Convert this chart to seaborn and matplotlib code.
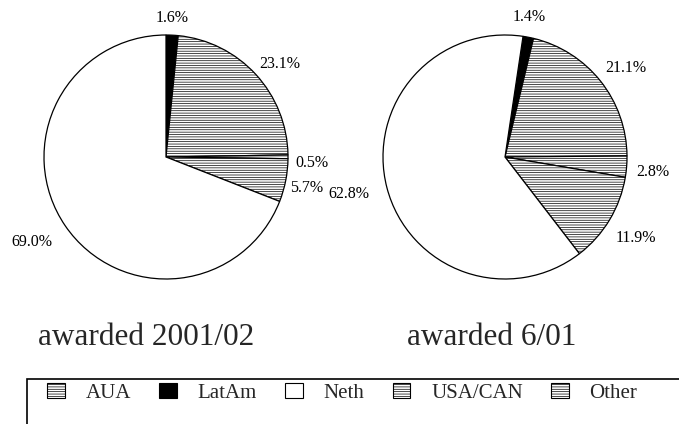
import matplotlib
matplotlib.use("Agg")
import matplotlib.pyplot as plt
import seaborn as sns
from matplotlib.patches import Patch, Rectangle

# data (clockwise from the top of each pie)
slice_names = ["LatAm", "USA/CAN", "Other", "AUA", "Neth"]
values_2001 = [1.6, 23.1, 0.5, 5.7, 69.0]
values_601 = [1.4, 21.1, 2.8, 11.9, 62.8]
titles = ["awarded 2001/02", "awarded 6/01"]
legend_names = ["AUA", "LatAm", "Neth", "USA/CAN", "Other"]

# styles
HATCH = "-------"
face = {"LatAm": "black", "Neth": "white", "USA/CAN": "white", "Other": "white", "AUA": "white"}
hatch = {"LatAm": None, "Neth": None, "USA/CAN": HATCH, "Other": HATCH, "AUA": HATCH}

# label positions (pie radius units) as Excel placed them
lab_2001 = [(0.05, 1.14), (0.93, 0.76), (1.20, -0.05), (1.15, -0.25), (-1.10, -0.70)]
lab_601 = [(0.20, 1.15), (0.99, 0.73), (1.21, -0.12), (1.07, -0.66), (-1.28, -0.30)]

sns.set_theme(style="white")
plt.rcParams["font.family"] = ["Liberation Serif", "DejaVu Serif"]
plt.rcParams["hatch.linewidth"] = 0.5

W, H = 679, 424
fig = plt.figure(figsize=(W / 100, H / 100), dpi=100)


def pie_axes(cx, cy, r, lim=1.3):
    size = 2 * lim * r
    ax = fig.add_axes([(cx - size / 2) / W, (H - cy - size / 2) / H, size / W, size / H])
    ax.set_xlim(-lim, lim)
    ax.set_ylim(-lim, lim)
    ax.set_aspect("equal")
    ax.axis("off")
    return ax


def draw_pie(ax, vals, start, labpos):
    wedges, _ = ax.pie(vals, startangle=start, counterclock=False, radius=1,
                       wedgeprops=dict(edgecolor="black", linewidth=0.9))
    for w, name in zip(wedges, slice_names):
        w.set_facecolor(face[name])
        if hatch[name]:
            w.set_hatch(hatch[name])
    for v, (x, y) in zip(vals, labpos):
        ax.text(x, y, f"{v:.1f}%", ha="center", va="center", fontsize=11.5, color="black")
    ax.set_xlim(-1.3, 1.3)
    ax.set_ylim(-1.3, 1.3)


ax1 = pie_axes(166, 157, 122)
draw_pie(ax1, values_2001, 90, lab_2001)
ax2 = pie_axes(505, 157, 122)
draw_pie(ax2, values_601, 81.5, lab_601)

fig.text(146 / W, 1 - 345 / H, titles[0], ha="center", va="baseline", fontsize=22.5)
fig.text(492 / W, 1 - 345 / H, titles[1], ha="center", va="baseline", fontsize=22.5)

handles = [Patch(facecolor=face[n], edgecolor="black", hatch=hatch[n], linewidth=0.8)
           for n in legend_names]
fig.legend(handles, legend_names, loc="center left", bbox_to_anchor=(47 / W, 1 - 393 / H),
           ncol=5, frameon=False, fontsize=15, handlelength=0.85, handleheight=0.75,
           handletextpad=1.0, columnspacing=1.35, borderpad=0, borderaxespad=0)

fig.add_artist(Rectangle((27 / W, -0.2), 1.2, 0.2 + (H - 379) / H, transform=fig.transFigure,
                         facecolor="none", edgecolor="black", linewidth=1.2, clip_on=False))

fig.savefig("out.png", dpi=100)
